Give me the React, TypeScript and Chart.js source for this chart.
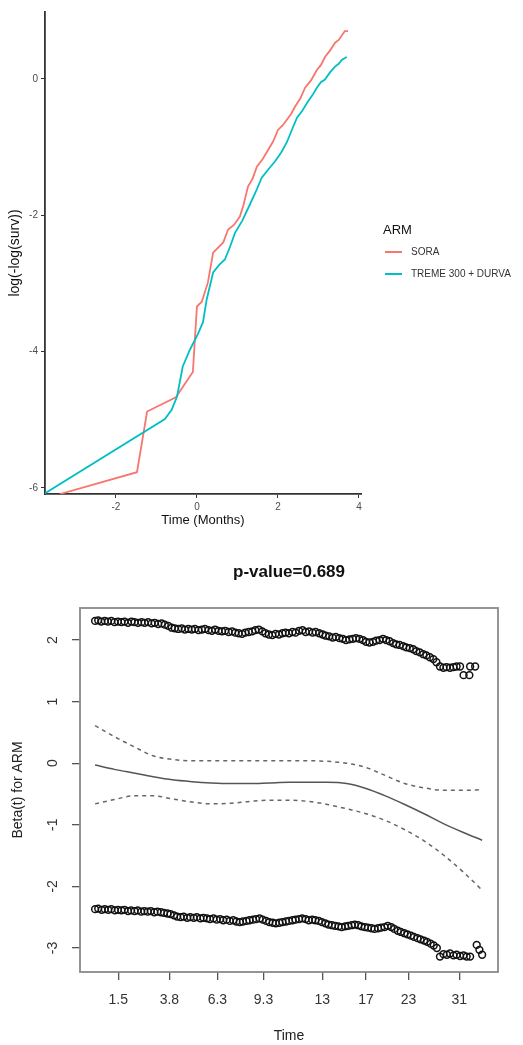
import React, { useEffect, useRef } from "react";
import { Chart, registerables } from "chart.js";

Chart.register(...registerables);

const FONT = '"Liberation Sans", Arial, Helvetica, sans-serif';

// ---------- Top chart: log(-log(surv)) vs log time ----------
const armTitle = "ARM";
const armLabels = ["SORA", "TREME 300 + DURVA"];
const armColors = ["#F8766D", "#00BFC4"];

const soraTime = [-3.38, -1.48, -1.23, -0.52, -0.10, 0.0, 0.12, 0.27, 0.40, 0.65, 0.77, 0.92, 1.06, 1.15, 1.26, 1.37, 1.48, 1.62, 1.76, 1.88, 2.0, 2.12, 2.22, 2.32, 2.42, 2.55, 2.67, 2.82, 2.96, 3.06, 3.16, 3.28, 3.41, 3.50, 3.58, 3.65, 3.73];
const soraLogLog = [-6.09, -5.77, -4.88, -4.67, -4.30, -3.34, -3.27, -2.99, -2.55, -2.40, -2.21, -2.14, -2.02, -1.85, -1.58, -1.47, -1.29, -1.18, -1.04, -0.92, -0.75, -0.68, -0.60, -0.52, -0.41, -0.29, -0.13, -0.02, 0.13, 0.20, 0.32, 0.41, 0.53, 0.57, 0.64, 0.70, 0.70];

const tremeTime = [-3.75, -0.79, -0.62, -0.49, -0.35, -0.17, 0.02, 0.15, 0.24, 0.40, 0.55, 0.69, 0.82, 0.94, 1.12, 1.31, 1.45, 1.60, 1.76, 1.93, 2.08, 2.22, 2.35, 2.47, 2.60, 2.72, 2.84, 2.96, 3.06, 3.16, 3.28, 3.41, 3.50, 3.58, 3.70];
const tremeLogLog = [-6.08, -4.99, -4.85, -4.66, -4.22, -3.97, -3.75, -3.57, -3.24, -2.84, -2.73, -2.65, -2.46, -2.26, -2.08, -1.84, -1.66, -1.45, -1.33, -1.21, -1.08, -0.93, -0.74, -0.57, -0.47, -0.35, -0.25, -0.13, -0.05, -0.01, 0.09, 0.18, 0.22, 0.28, 0.32];

const topXTicks = [-2, 0, 2, 4];
const topYTicks = [-6, -4, -2, 0];

// ---------- Bottom chart: Schoenfeld residuals (cox.zph) ----------
const pValueTitle = "p-value=0.689";
const zphTickPos = [6.0, 19.2, 31.6, 43.5, 58.7, 70.0, 81.0, 94.1];
const zphTickLabels = ["1.5", "3.8", "6.3", "9.3", "13", "17", "23", "31"];
const zphYTicks = [-3, -2, -1, 0, 1, 2];

const upperResidTime = [0.0, 0.8, 1.6, 2.5, 3.3, 4.2, 5.0, 5.9, 6.8, 7.6, 8.5, 9.4, 10.2, 11.1, 12.0, 12.8, 13.7, 14.6, 15.4, 16.3, 17.2, 18.0, 18.9, 19.8, 20.6, 21.5, 22.4, 23.2, 24.1, 25.0, 25.8, 26.7, 27.6, 28.4, 29.3, 30.2, 31.0, 31.9, 32.8, 33.6, 34.5, 35.4, 36.2, 37.1, 38.0, 38.8, 39.7, 40.6, 41.4, 42.3, 43.2, 44.0, 44.9, 45.8, 46.6, 47.5, 48.4, 49.2, 50.1, 51.0, 51.8, 52.7, 53.6, 54.4, 55.3, 56.2, 57.0, 57.9, 58.8, 59.6, 60.5, 61.4, 62.2, 63.1, 64.0, 64.8, 65.7, 66.6, 67.4, 68.3, 69.2, 70.0, 70.9, 71.8, 72.6, 73.5, 74.4, 75.2, 76.1, 77.0, 77.8, 78.7, 79.6, 80.4, 81.3, 82.2, 83.0, 83.9, 84.8, 85.6, 86.5, 87.4, 88.2, 89.1, 90.0, 90.8, 91.7, 92.6, 93.4, 94.3, 95.2, 96.7, 96.9, 98.2];
const upperResid = [2.31, 2.32, 2.30, 2.31, 2.30, 2.31, 2.29, 2.30, 2.29, 2.30, 2.28, 2.30, 2.29, 2.28, 2.29, 2.28, 2.29, 2.27, 2.28, 2.26, 2.27, 2.25, 2.23, 2.20, 2.19, 2.18, 2.19, 2.17, 2.18, 2.17, 2.18, 2.16, 2.17, 2.18, 2.16, 2.15, 2.17, 2.15, 2.14, 2.15, 2.13, 2.14, 2.12, 2.11, 2.10, 2.12, 2.13, 2.14, 2.16, 2.17, 2.14, 2.11, 2.09, 2.08, 2.10, 2.09, 2.11, 2.12, 2.11, 2.13, 2.12, 2.15, 2.16, 2.13, 2.14, 2.12, 2.13, 2.11, 2.09, 2.07, 2.06, 2.04, 2.05, 2.03, 2.02, 2.00, 2.01, 2.02, 2.03, 2.02, 2.00, 1.97, 1.96, 1.97, 1.99, 2.00, 2.02, 2.00, 1.98, 1.95, 1.93, 1.92, 1.90, 1.88, 1.87, 1.85, 1.82, 1.80, 1.77, 1.75, 1.72, 1.69, 1.64, 1.57, 1.55, 1.56, 1.55, 1.56, 1.57, 1.57, 1.43, 1.43, 1.57, 1.57];

const lowerResidTime = [0.0, 0.8, 1.7, 2.5, 3.4, 4.2, 5.1, 5.9, 6.8, 7.6, 8.5, 9.3, 10.2, 11.0, 11.9, 12.7, 13.6, 14.4, 15.3, 16.1, 17.0, 17.8, 18.7, 19.5, 20.4, 21.2, 22.1, 22.9, 23.8, 24.6, 25.5, 26.3, 27.2, 28.0, 28.9, 29.7, 30.6, 31.4, 32.3, 33.1, 34.0, 34.8, 35.7, 36.5, 37.4, 38.2, 39.1, 39.9, 40.8, 41.6, 42.5, 43.3, 44.2, 45.0, 45.9, 46.7, 47.6, 48.4, 49.3, 50.1, 51.0, 51.8, 52.7, 53.5, 54.4, 55.2, 56.1, 56.9, 57.8, 58.6, 59.5, 60.3, 61.2, 62.0, 62.9, 63.7, 64.6, 65.4, 66.3, 67.1, 68.0, 68.8, 69.7, 70.5, 71.4, 72.2, 73.1, 73.9, 74.8, 75.6, 76.5, 77.3, 78.2, 79.0, 79.9, 80.7, 81.6, 82.4, 83.3, 84.1, 85.0, 85.8, 86.7, 87.5, 88.3, 89.1, 90.0, 90.9, 91.7, 92.6, 93.4, 94.3, 95.2, 96.0, 96.9, 98.6, 99.3, 100.0];
const lowerResid = [-2.37, -2.36, -2.38, -2.37, -2.38, -2.37, -2.39, -2.38, -2.39, -2.38, -2.40, -2.39, -2.40, -2.39, -2.41, -2.40, -2.41, -2.40, -2.42, -2.41, -2.42, -2.43, -2.44, -2.45, -2.47, -2.49, -2.50, -2.49, -2.51, -2.50, -2.51, -2.50, -2.52, -2.51, -2.52, -2.53, -2.52, -2.54, -2.53, -2.55, -2.54, -2.56, -2.55, -2.57, -2.58, -2.57, -2.56, -2.55, -2.54, -2.53, -2.52, -2.54, -2.56, -2.58, -2.59, -2.60, -2.59, -2.58, -2.57, -2.56, -2.55, -2.54, -2.53, -2.52, -2.53, -2.55, -2.54, -2.55, -2.56, -2.58, -2.60, -2.62, -2.63, -2.64, -2.65, -2.66, -2.65, -2.64, -2.63, -2.62, -2.63, -2.65, -2.66, -2.67, -2.68, -2.69, -2.68, -2.67, -2.66, -2.64, -2.66, -2.69, -2.72, -2.74, -2.76, -2.78, -2.80, -2.82, -2.84, -2.86, -2.88, -2.90, -2.93, -2.96, -3.00, -3.14, -3.10, -3.11, -3.09, -3.12, -3.11, -3.13, -3.12, -3.14, -3.14, -2.95, -3.03, -3.11];

const smoothTime = [0, 5, 10, 15, 20, 25, 30, 35, 40, 45, 50, 55, 60, 65, 70, 75, 80, 85, 90, 95, 100];
const smoothBeta = [-0.03, -0.10, -0.16, -0.22, -0.27, -0.30, -0.32, -0.33, -0.33, -0.32, -0.31, -0.31, -0.31, -0.33, -0.41, -0.53, -0.67, -0.82, -0.98, -1.12, -1.25];
const upperCI = [0.61, 0.43, 0.27, 0.12, 0.06, 0.04, 0.04, 0.04, 0.04, 0.04, 0.04, 0.04, 0.03, 0.00, -0.07, -0.20, -0.33, -0.40, -0.44, -0.44, -0.43];
const lowerCI = [-0.66, -0.59, -0.53, -0.53, -0.58, -0.63, -0.66, -0.65, -0.62, -0.60, -0.60, -0.62, -0.67, -0.74, -0.82, -0.93, -1.08, -1.26, -1.49, -1.76, -2.06];

const pts = (xs: number[], ys: number[]) => xs.map((x, i) => ({ x, y: ys[i] }));

const legendPlugin = {
  id: "armLegend",
  afterDraw(chart: any) {
    const ctx = chart.ctx;
    ctx.save();
    ctx.textBaseline = "middle";
    ctx.textAlign = "left";
    ctx.fillStyle = "#111";
    ctx.font = `13px ${FONT}`;
    ctx.fillText(armTitle, 383, 230);
    chart.data.datasets.forEach((ds: any, i: number) => {
      const y = 252 + i * 22;
      ctx.strokeStyle = ds.borderColor;
      ctx.lineWidth = 2;
      ctx.beginPath();
      ctx.moveTo(385, y);
      ctx.lineTo(402, y);
      ctx.stroke();
      ctx.fillStyle = "#333";
      ctx.font = `10px ${FONT}`;
      ctx.fillText(ds.label, 411, y);
    });
    ctx.restore();
  },
};

const boxTitlePlugin = {
  id: "boxTitle",
  beforeDatasetsDraw(chart: any) {
    const { ctx, chartArea } = chart;
    ctx.save();
    ctx.strokeStyle = "#8a8a8a";
    ctx.lineWidth = 1.8;
    ctx.strokeRect(chartArea.left, chartArea.top, chartArea.right - chartArea.left, chartArea.bottom - chartArea.top);
    ctx.restore();
  },
  afterDraw(chart: any) {
    const { ctx, chartArea } = chart;
    ctx.save();
    ctx.fillStyle = "#111";
    ctx.font = `bold 17px ${FONT}`;
    ctx.textAlign = "center";
    ctx.textBaseline = "middle";
    ctx.fillText(pValueTitle, (chartArea.left + chartArea.right) / 2, 32);
    ctx.restore();
  },
};

export default function App() {
  const topRef = useRef<HTMLCanvasElement>(null);
  const botRef = useRef<HTMLCanvasElement>(null);

  useEffect(() => {
    const top = new Chart(topRef.current as HTMLCanvasElement, {
      type: "line",
      data: {
        datasets: [
          { label: armLabels[0], data: pts(soraTime, soraLogLog), borderColor: armColors[0], borderWidth: 1.8, pointRadius: 0, tension: 0, order: 1 },
          { label: armLabels[1], data: pts(tremeTime, tremeLogLog), borderColor: armColors[1], borderWidth: 1.8, pointRadius: 0, tension: 0, order: 0 },
        ],
      },
      options: {
        responsive: false,
        animation: false,
        events: [],
        layout: { padding: { left: 0, top: 12, right: 162, bottom: 0 }, autoPadding: false },
        plugins: { legend: { display: false }, tooltip: { enabled: false } },
        scales: {
          x: {
            type: "linear",
            min: -3.75,
            max: 4.05,
            afterBuildTicks: (s: any) => { s.ticks = topXTicks.map((v) => ({ value: v })); },
            afterFit: (s: any) => { s.height = 41; },
            grid: { display: true, drawOnChartArea: false, drawTicks: true, tickLength: 4, color: "#333", lineWidth: 1 },
            border: { display: true, color: "#333", width: 1.8 },
            ticks: { color: "#4d4d4d", font: { family: FONT, size: 10 }, padding: 3, maxRotation: 0, autoSkip: false, callback: (v: any) => String(v) },
            title: { display: true, text: "Time (Months)", color: "#111", font: { family: FONT, size: 13 }, padding: { top: 0, bottom: 7 } },
          },
          y: {
            type: "linear",
            min: -6.09,
            max: 0.98,
            afterBuildTicks: (s: any) => { s.ticks = topYTicks.map((v) => ({ value: v })); },
            afterFit: (s: any) => { s.width = 45; },
            grid: { display: true, drawOnChartArea: false, drawTicks: true, tickLength: 4, color: "#333", lineWidth: 1 },
            border: { display: true, color: "#333", width: 1.8 },
            ticks: { color: "#4d4d4d", font: { family: FONT, size: 10 }, padding: 3, callback: (v: any) => String(v) },
            title: { display: true, text: "log(-log(surv))", color: "#111", font: { family: FONT, size: 14 }, padding: { top: 7, bottom: 0 } },
          },
        },
      },
      plugins: [legendPlugin],
    } as any);

    const bot = new Chart(botRef.current as HTMLCanvasElement, {
      type: "scatter",
      data: {
        datasets: [
          { type: "line", label: "beta(t)", data: pts(smoothTime, smoothBeta), borderColor: "#555", borderWidth: 1.5, pointRadius: 0, tension: 0.4, cubicInterpolationMode: "monotone" },
          { type: "line", label: "upper", data: pts(smoothTime, upperCI), borderColor: "#666", borderWidth: 1.5, borderDash: [4, 4], pointRadius: 0, tension: 0.4, cubicInterpolationMode: "monotone" },
          { type: "line", label: "lower", data: pts(smoothTime, lowerCI), borderColor: "#666", borderWidth: 1.5, borderDash: [4, 4], pointRadius: 0, tension: 0.4, cubicInterpolationMode: "monotone" },
          { type: "scatter", label: "resid+", data: pts(upperResidTime, upperResid), pointRadius: 3.4, pointBorderWidth: 1.5, pointBorderColor: "#111", pointBackgroundColor: "rgba(0,0,0,0)", showLine: false },
          { type: "scatter", label: "resid-", data: pts(lowerResidTime, lowerResid), pointRadius: 3.4, pointBorderWidth: 1.5, pointBorderColor: "#111", pointBackgroundColor: "rgba(0,0,0,0)", showLine: false },
        ],
      },
      options: {
        responsive: false,
        animation: false,
        events: [],
        layout: { padding: { left: 0, top: 68, right: 25, bottom: 0 }, autoPadding: false },
        plugins: { legend: { display: false }, tooltip: { enabled: false } },
        scales: {
          x: {
            type: "linear",
            min: -3.9,
            max: 104.1,
            afterBuildTicks: (s: any) => { s.ticks = zphTickPos.map((v) => ({ value: v })); },
            afterFit: (s: any) => { s.height = 73; },
            grid: { display: true, drawOnChartArea: false, drawTicks: true, tickLength: 8, color: "#555", lineWidth: 1.3 },
            border: { display: false },
            ticks: { color: "#333", font: { family: FONT, size: 14 }, padding: 12, maxRotation: 0, autoSkip: false, callback: (_v: any, i: number) => zphTickLabels[i] },
            title: { display: true, text: "Time", color: "#222", font: { family: FONT, size: 14 }, padding: { top: 0, bottom: 0 } },
          },
          y: {
            type: "linear",
            min: -3.39,
            max: 2.52,
            afterBuildTicks: (s: any) => { s.ticks = zphYTicks.map((v) => ({ value: v })); },
            afterFit: (s: any) => { s.width = 80; },
            grid: { display: true, drawOnChartArea: false, drawTicks: true, tickLength: 8, color: "#555", lineWidth: 1.3 },
            border: { display: false },
            ticks: { color: "#333", font: { family: FONT, size: 14 }, padding: 13, minRotation: 90, maxRotation: 90, crossAlign: "center", callback: (v: any) => String(v) },
            title: { display: true, text: "Beta(t) for ARM", color: "#222", font: { family: FONT, size: 14 }, padding: { top: 10, bottom: 0 } },
          },
        },
      },
      plugins: [boxTitlePlugin],
    } as any);

    return () => {
      top.destroy();
      bot.destroy();
    };
  }, []);

  return (
    <div style={{ position: "absolute", left: 0, top: 0, width: 523, height: 1045, background: "#fff" }}>
      <canvas ref={topRef} width={523} height={535} style={{ position: "absolute", left: 0, top: 0, width: 523, height: 535 }} />
      <canvas ref={botRef} width={523} height={505} style={{ position: "absolute", left: 0, top: 540, width: 523, height: 505 }} />
    </div>
  );
}
